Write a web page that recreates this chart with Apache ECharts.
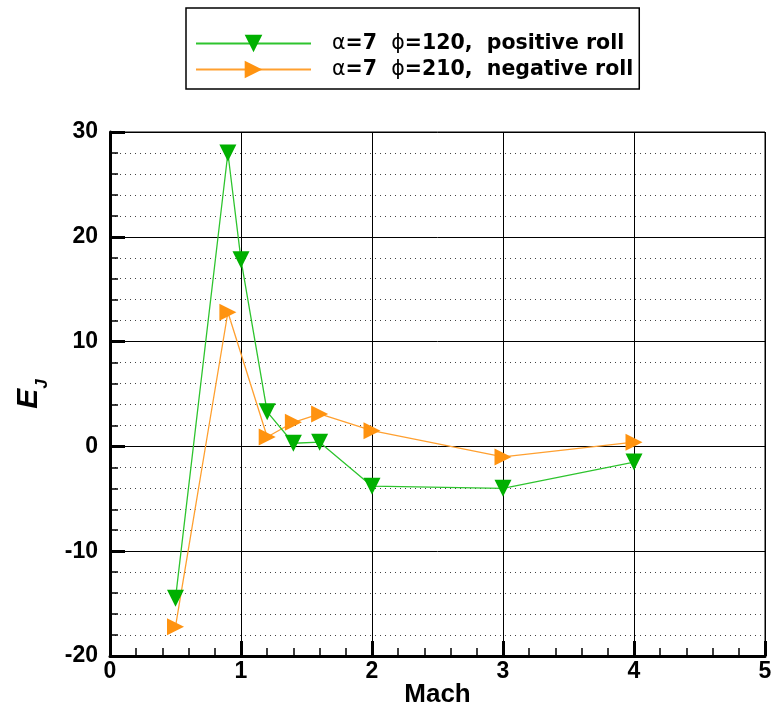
<!DOCTYPE html>
<html>
<head>
<meta charset="utf-8">
<script src="https://cdn.jsdelivr.net/npm/echarts@6/dist/echarts.min.js"></script>
<style>html,body{margin:0;padding:0;background:#fff}#c{width:772px;height:713px}</style>
</head>
<body>
<div id="c"></div>
<script>
var machPos = [0.5, 0.9, 1.0, 1.2, 1.4, 1.6, 2, 3, 4];
var ejPos = [-14.5, 28.0, 17.8, 3.3, 0.3, 0.4, -3.8, -4.0, -1.5];
var machNeg = [0.5, 0.9, 1.2, 1.4, 1.6, 2, 3, 4];
var ejNeg = [-17.2, 12.8, 0.9, 2.3, 3.1, 1.5, -1.0, 0.4];
var posName = 'α=7  ϕ=120,  positive roll';
var negName = 'α=7  ϕ=210,  negative roll';

function pairs(xs, ys){ return xs.map(function(x,i){ return [x, ys[i]]; }); }

var chart = echarts.init(document.getElementById('c'));
var font = 'Liberation Sans, Arial, sans-serif';
var wide = 'DejaVu Sans, sans-serif';
chart.setOption({
  animation: false,
  backgroundColor: '#fff',
  grid: { left: 110, right: 7, top: 132, bottom: 57, show: true, borderColor: '#000', borderWidth: 1,
          containLabel: false, outerBoundsMode: 'none' },
  legend: {
    left: 186, top: 8, orient: 'vertical',
    padding: [25, 6, 9, 9], itemGap: 5,
    itemWidth: 115, itemHeight: 22,
    borderColor: '#000', borderWidth: 1.5,
    data: [posName, negName],
    formatter: function(n){
      var a = n.indexOf('ϕ');
      return '{g|α}{b|' + n.slice(1, a) + '}{g|ϕ}{b|' + n.slice(a + 1) + '}';
    },
    textStyle: {
      padding: [0, 0, 0, 16],
      rich: {
        g: { fontFamily: wide, fontSize: 20.5, fontWeight: 'normal', color: '#000' },
        b: { fontFamily: wide, fontSize: 20.5, fontWeight: 'bold', color: '#000' }
      }
    }
  },
  xAxis: {
    type: 'value', min: 0, max: 5, interval: 1,
    name: 'Mach', nameLocation: 'middle', nameGap: 26, nameMoveOverlap: false,
    nameTextStyle: { fontFamily: font, fontSize: 26, fontWeight: 'bold', color: '#000' },
    axisLine: { show: true, onZero: false, lineStyle: { color: '#000', width: 3 } },
    axisTick: { show: true, inside: true, length: 15, lineStyle: { color: '#000', width: 3 } },
    minorTick: { show: true, splitNumber: 5, length: 8, lineStyle: { color: '#000', width: 1.5 } },
    axisLabel: { margin: 4, fontFamily: font, fontSize: 23, fontWeight: 'bold', color: '#000' },
    splitLine: { show: true, lineStyle: { color: '#000', width: 1 } },
    minorSplitLine: { show: false }
  },
  yAxis: {
    type: 'value', min: -20, max: 30, interval: 10,
    name: '{e|E}{j|J}', nameLocation: 'middle', nameGap: 66, nameRotate: 90,
    nameTextStyle: {
      rich: {
        e: { fontFamily: font, fontSize: 30, fontWeight: 'bold', fontStyle: 'italic', color: '#000', verticalAlign: 'bottom' },
        j: { fontFamily: font, fontSize: 17, fontWeight: 'bold', fontStyle: 'italic', color: '#000', verticalAlign: 'bottom', padding: [0,0,-7,0] }
      }
    },
    axisLine: { show: true, onZero: false, lineStyle: { color: '#000', width: 3 } },
    axisTick: { show: true, inside: true, length: 15, lineStyle: { color: '#000', width: 3 } },
    minorTick: { show: true, splitNumber: 5, length: 8, lineStyle: { color: '#000', width: 1.5 } },
    axisLabel: { margin: 12, fontFamily: font, fontSize: 23, fontWeight: 'bold', color: '#000' },
    splitLine: { show: true, lineStyle: { color: '#000', width: 1 } },
    minorSplitLine: { show: true, lineStyle: { color: '#444', width: 1, type: [1, 4] } }
  },
  series: [
    {
      name: posName, type: 'line', data: pairs(machPos, ejPos),
      symbol: 'triangle', symbolSize: 17, symbolRotate: 180,
      itemStyle: { color: '#00b000' },
      lineStyle: { color: '#2ec42e', width: 1.3 },
      z: 3
    },
    {
      name: negName, type: 'line', data: pairs(machNeg, ejNeg),
      symbol: 'triangle', symbolSize: 17, symbolRotate: -90,
      itemStyle: { color: '#ff9310' },
      lineStyle: { color: '#ffa030', width: 1.3 },
      z: 2
    }
  ]
});
</script>
</body>
</html>
